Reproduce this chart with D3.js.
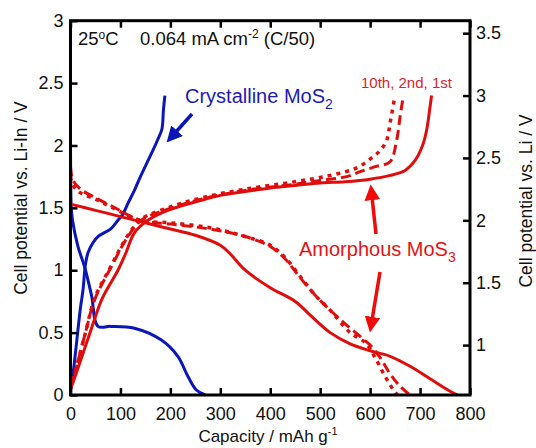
<!DOCTYPE html>
<html>
<head>
<meta charset="utf-8">
<script src="https://cdn.jsdelivr.net/npm/d3@7"></script>
<style>
  body { margin: 0; background: #fff; }
  text { font-family: "Liberation Sans", Arial, sans-serif; }
</style>
</head>
<body>
<div id="chart"></div>
<script>
// capacity (mAh/g) vs potential (V vs Li-In)
const crystallineDischarge = [[0, 2.0], [0.5, 1.7], [1.5, 1.5], [4, 1.4], [15, 1.19], [28, 1.03], [42, 0.8], [55, 0.55],
  [80, 0.55], [128, 0.535], [182, 0.44], [215, 0.31], [235, 0.15], [252, 0.04], [270, 0]];
const crystallineCharge = [[0, 0], [1.6, 0.09], [5, 0.17], [20, 0.7], [25, 0.84], [30, 1.05], [35, 1.14], [45, 1.22],
  [55, 1.27], [80, 1.33], [95, 1.40], [105, 1.45], [115, 1.536], [128, 1.64], [140, 1.75], [153, 1.86], [165, 1.96],
  [175, 2.05], [183, 2.13], [186, 2.28], [189, 2.40]];

const amorphous1stDischarge = [[0, 1.53], [50, 1.48], [100, 1.43], [150, 1.38], [200, 1.33], [250, 1.28], [300, 1.2],
  [320, 1.13], [350, 1.0], [400, 0.86], [450, 0.75], [480, 0.64], [520, 0.5], [560, 0.41], [600, 0.355],
  [640, 0.31], [680, 0.23], [720, 0.13], [760, 0.03], [775, 0]];
const amorphous2ndDischarge = [[0, 1.83], [5, 1.72], [20, 1.65], [50, 1.58], [80, 1.52], [140, 1.4], [200, 1.37],
  [280, 1.33], [350, 1.27], [400, 1.19], [430, 1.09], [460, 0.94], [490, 0.8], [520, 0.68], [550, 0.57],
  [580, 0.47], [600, 0.4], [620, 0.3], [640, 0.17], [660, 0.07], [680, 0]];
const amorphous10thDischarge = [[0, 1.75], [5, 1.68], [20, 1.62], [50, 1.57], [80, 1.51], [140, 1.4], [200, 1.38],
  [280, 1.34], [350, 1.27], [400, 1.2], [430, 1.1], [460, 0.95], [490, 0.8], [520, 0.68], [560, 0.5],
  [590, 0.42], [610, 0.3], [630, 0.15], [650, 0.02], [655, 0]];

const amorphous1stCharge = [[0, 0.05], [5, 0.1], [35, 0.45], [62, 0.76], [75, 0.86], [95, 1.0], [110, 1.13],
  [128, 1.3], [155, 1.40], [195, 1.48], [262, 1.56], [300, 1.6], [350, 1.63], [400, 1.66], [450, 1.68],
  [500, 1.70], [550, 1.71], [600, 1.73], [640, 1.76], [670, 1.80], [690, 1.88], [705, 2.0], [713, 2.12],
  [720, 2.31], [723, 2.4]];
const amorphous2ndCharge = [[0, 0.05], [5, 0.12], [30, 0.5], [48, 0.76], [82, 1.03], [115, 1.27], [142, 1.40],
  [195, 1.49], [262, 1.57], [350, 1.64], [450, 1.69], [500, 1.72], [553, 1.75], [580, 1.79], [610, 1.83],
  [640, 1.87], [653, 2.04], [660, 2.23], [665, 2.36]];
const amorphous10thCharge = [[0, 0.05], [5, 0.12], [30, 0.5], [48, 0.77], [82, 1.04], [115, 1.28], [142, 1.41],
  [195, 1.5], [262, 1.58], [350, 1.65], [450, 1.71], [520, 1.76], [573, 1.82], [603, 1.90], [620, 1.96],
  [633, 2.04], [640, 2.18], [648, 2.36]];

const xTicks = [0, 100, 200, 300, 400, 500, 600, 700, 800];
const yLeftTicks = [0, 0.5, 1, 1.5, 2, 2.5, 3];
const yRightTicks = [1, 1.5, 2, 2.5, 3, 3.5];

const width = 536, height = 448;
const blue = "#0b16b8", red = "#e00d0d";

const svg = d3.select("#chart").append("svg")
  .attr("width", width).attr("height", height);

const x = d3.scaleLinear().domain([0, 800]).range([70.5, 470]);
const y = d3.scaleLinear().domain([0, 3]).range([395, 20.7]);
// vs Li scale is the Li-In scale shifted by 0.6 V
const yRight = d3.scaleLinear().domain([0.6, 3.6]).range([395, 20.7]);

const line = d3.line()
  .x(d => x(d[0])).y(d => y(d[1]))
  .curve(d3.curveCatmullRom.alpha(0.5));

const curves = [
  { data: crystallineDischarge, color: blue, dash: null, w: 3 },
  { data: crystallineCharge, color: blue, dash: null, w: 3 },
  { data: amorphous10thDischarge, color: red, dash: "4,5", w: 3.5 },
  { data: amorphous10thCharge, color: red, dash: "4,5", w: 3.5 },
  { data: amorphous2ndDischarge, color: red, dash: "10,5", w: 3 },
  { data: amorphous2ndCharge, color: red, dash: "10,5", w: 3 },
  { data: amorphous1stDischarge, color: red, dash: null, w: 3 },
  { data: amorphous1stCharge, color: red, dash: null, w: 3 }
];

svg.append("g").selectAll("path").data(curves).enter()
  .append("path")
  .attr("d", d => line(d.data))
  .attr("fill", "none")
  .attr("stroke", d => d.color)
  .attr("stroke-width", d => d.w)
  .attr("stroke-dasharray", d => d.dash);

// axes: ticks pointing inward on all four sides
const tickLen = 7;
svg.append("g").attr("transform", `translate(0,${y(0)})`)
  .call(d3.axisBottom(x).tickValues(xTicks).tickSize(-tickLen).tickPadding(12).tickFormat(d3.format("d")))
  .call(g => g.select(".domain").remove());
svg.append("g").attr("transform", `translate(0,${y(3)})`)
  .call(d3.axisTop(x).tickValues(xTicks).tickSize(-tickLen).tickFormat(""))
  .call(g => g.select(".domain").remove());
svg.append("g").attr("transform", `translate(${x(0)},0)`)
  .call(d3.axisLeft(y).tickValues(yLeftTicks).tickSize(-tickLen).tickPadding(7).tickFormat(d3.format("")))
  .call(g => g.select(".domain").remove());
svg.append("g").attr("transform", `translate(${x(800)},0)`)
  .call(d3.axisRight(yRight).tickValues(yRightTicks).tickSize(-tickLen).tickPadding(6).tickFormat(d3.format("")))
  .call(g => g.select(".domain").remove());

svg.selectAll(".tick line").attr("stroke", "#000").attr("stroke-width", 2.5);
svg.selectAll(".tick text").attr("font-size", 18).attr("fill", "#111")
  .attr("font-family", "Liberation Sans, Arial, sans-serif");

svg.append("rect")
  .attr("x", x(0)).attr("y", y(3))
  .attr("width", x(800) - x(0)).attr("height", y(0) - y(3))
  .attr("fill", "none").attr("stroke", "#000").attr("stroke-width", 3);

// axis titles
const xTitle = svg.append("text").attr("x", 268).attr("y", 442)
  .attr("text-anchor", "middle").attr("font-size", 17).attr("fill", "#111");
xTitle.append("tspan").text("Capacity / mAh g");
xTitle.append("tspan").attr("dy", -7).attr("font-size", 11).text("-1");

svg.append("text")
  .attr("transform", "translate(27,198) rotate(-90)")
  .attr("text-anchor", "middle").attr("font-size", 17.5).attr("fill", "#111")
  .text("Cell potential vs. Li-In / V");
svg.append("text")
  .attr("transform", "translate(532,201) rotate(-90)")
  .attr("text-anchor", "middle").attr("font-size", 17.5).attr("fill", "#111")
  .text("Cell potential vs. Li / V");

// condition label
const cond = svg.append("text").attr("x", 78).attr("y", 45).attr("font-size", 18.5).attr("fill", "#111");
cond.append("tspan").text("25");
cond.append("tspan").attr("dy", -6).attr("font-size", 12).text("o");
cond.append("tspan").attr("dy", 6).text("C");
cond.append("tspan").attr("x", 140).text("0.064 mA cm");
cond.append("tspan").attr("dy", -7).attr("font-size", 12).text("-2");
cond.append("tspan").attr("dy", 7).text(" (C/50)");

// series labels
const cryst = svg.append("text").attr("x", 185).attr("y", 103).attr("font-size", 20).attr("fill", "#1c1cb0");
cryst.append("tspan").text("Crystalline MoS");
cryst.append("tspan").attr("dy", 6).attr("font-size", 14).text("2");

svg.append("text").attr("x", 361).attr("y", 88).attr("font-size", 15).attr("fill", "#d8262e")
  .text("10th, 2nd, 1st");

const amor = svg.append("text").attr("x", 299).attr("y", 256).attr("font-size", 20).attr("fill", "#e01515");
amor.append("tspan").text("Amorphous MoS");
amor.append("tspan").attr("dy", 6).attr("font-size", 14).text("3");

// arrows
const defs = svg.append("defs");
[["headBlue", blue], ["headRed", "#f00a0a"]].forEach(([id, c]) => {
  defs.append("marker").attr("id", id)
    .attr("viewBox", "0 0 10 10").attr("refX", 2).attr("refY", 5)
    .attr("markerWidth", 4.5).attr("markerHeight", 4.5)
    .attr("markerUnits", "strokeWidth").attr("orient", "auto")
    .append("path").attr("d", "M0,0 L10,5 L0,10 Z").attr("fill", c);
});
const arrows = [
  { from: [192, 114], to: [175, 133], color: blue, head: "headBlue" },
  { from: [376, 234], to: [372, 197], color: "#f00a0a", head: "headRed" },
  { from: [380, 272], to: [372, 320], color: "#f00a0a", head: "headRed" }
];
svg.append("g").selectAll("line").data(arrows).enter()
  .append("line")
  .attr("x1", d => d.from[0]).attr("y1", d => d.from[1])
  .attr("x2", d => d.to[0]).attr("y2", d => d.to[1])
  .attr("stroke", d => d.color).attr("stroke-width", 3.5)
  .attr("marker-end", d => `url(#${d.head})`);
</script>
</body>
</html>
